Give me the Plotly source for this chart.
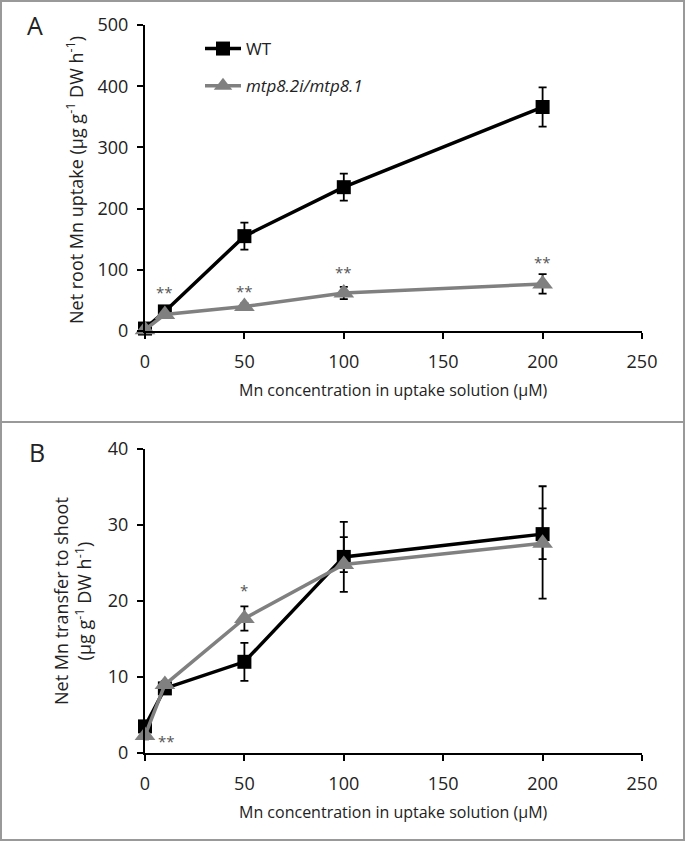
import plotly.graph_objects as go

conc = [0, 10, 50, 100, 200]

# Panel A: net root Mn uptake
wt_a = [4, 32, 155, 235, 366]
wt_a_err = [3, 5, 22, 22, 32]
mt_a = [2, 27, 40, 62, 77]
mt_a_err = [2, 4, 5, 10, 16]

# Panel B: net Mn transfer to shoot
wt_b = [3.5, 8.5, 12.0, 25.8, 28.8]
wt_b_plus = [0.5, 0.5, 2.5, 4.6, 6.3]
wt_b_minus = [0.5, 0.5, 2.5, 4.6, 3.3]
mt_b = [2.3, 9.0, 17.7, 24.8, 27.6]
mt_b_plus = [0.5, 0.5, 1.6, 3.6, 4.6]
mt_b_minus = [0.5, 0.5, 1.6, 1.0, 7.3]

stars_a_x = [10, 50, 100, 200]
stars_a_y = [64, 66, 96, 112]
stars_a_t = ["**", "**", "**", "**"]
stars_b_x = [50, 11]
stars_b_y = [21.5, 1.6]
stars_b_t = ["*", "**"]

xticks = [0, 50, 100, 150, 200, 250]
yticks_a = [0, 100, 200, 300, 400, 500]
yticks_b = [0, 10, 20, 30, 40]

FONT = "Open Sans"
BLACK = "#000000"
GRAY = "#808080"
TXT = "#222222"

fig = go.Figure()

def add_series(x, y, plus, minus, color, symbol, size, name, xa, ya, show, group):
    fig.add_trace(go.Scatter(
        x=x, y=y, mode="lines+markers", name=name, showlegend=show,
        legendgroup=group, xaxis=xa, yaxis=ya, cliponaxis=False,
        line=dict(color=color, width=3.5),
        marker=dict(symbol=symbol, size=size, color=color),
        error_y=dict(type="data", symmetric=False, array=plus, arrayminus=minus,
                     color=BLACK, thickness=1.8, width=4),
    ))

add_series(conc, wt_a, wt_a_err, wt_a_err, BLACK, "square", 14, "WT", "x", "y", True, "wt")
add_series(conc, mt_a, mt_a_err, mt_a_err, GRAY, "triangle-up", 18,
           "<i>mtp8.2i/mtp8.1</i>", "x", "y", True, "mt")
add_series(conc, wt_b, wt_b_plus, wt_b_minus, BLACK, "square", 14, "WT", "x2", "y2", False, "wt")
add_series(conc, mt_b, mt_b_plus, mt_b_minus, GRAY, "triangle-up", 18, "mtp", "x2", "y2", False, "mt")

W, H = 685, 841
def px(xp):
    return xp / W
def py(yp):
    return 1 - yp / H

axis_common = dict(showline=True, linecolor=BLACK, linewidth=2, ticks="outside",
                   ticklen=6, tickwidth=1.5, tickcolor=BLACK, showgrid=False,
                   zeroline=False, automargin=False,
                   tickfont=dict(family=FONT, size=18, color=TXT))
x_common = dict(range=[0, 250], tickvals=xticks, ticklabelstandoff=7, **axis_common)
y_common = dict(ticklabelstandoff=5, **axis_common)

fig.update_layout(
    width=W, height=H, margin=dict(l=0, r=0, t=0, b=0, pad=0, autoexpand=False),
    paper_bgcolor="white", plot_bgcolor="white",
    font=dict(family=FONT, color=TXT),
    xaxis=dict(domain=[px(145), px(642)], anchor="y", **x_common),
    yaxis=dict(domain=[py(331), py(25)], range=[0, 500], tickvals=yticks_a,
               anchor="x", **y_common),
    xaxis2=dict(domain=[px(145), px(642)], anchor="y2", **x_common),
    yaxis2=dict(domain=[py(753), py(449)], range=[0, 40], tickvals=yticks_b,
                anchor="x2", **y_common),
    legend=dict(x=px(200), y=py(31), xanchor="left", yanchor="top",
                font=dict(family=FONT, size=17, color=TXT),
                bgcolor="rgba(0,0,0,0)", itemwidth=36, tracegroupgap=12,
                traceorder="grouped"),
    shapes=[
        dict(type="rect", xref="paper", yref="paper", x0=px(1), x1=px(684),
             y0=py(422), y1=py(1), line=dict(color="#999", width=2)),
        dict(type="rect", xref="paper", yref="paper", x0=px(1), x1=px(684),
             y0=py(840), y1=py(422), line=dict(color="#999", width=2)),
    ],
)

ann = []
for x, y, t in zip(stars_a_x, stars_a_y, stars_a_t):
    ann.append(dict(x=x, y=y, xref="x", yref="y", text=t, showarrow=False,
                    xanchor="center", yanchor="middle",
                    font=dict(family=FONT, size=15, color="#555")))
for x, y, t in zip(stars_b_x, stars_b_y, stars_b_t):
    ann.append(dict(x=x, y=y, xref="x2", yref="y2", text=t, showarrow=False,
                    xanchor="center", yanchor="middle",
                    font=dict(family=FONT, size=15, color="#555")))

def paper_text(x, y, text, size, angle=0):
    return dict(x=px(x), y=py(y), xref="paper", yref="paper", text=text,
                showarrow=False, xanchor="center", yanchor="middle",
                textangle=angle, font=dict(family=FONT, size=size, color=TXT))

ann += [
    paper_text(35, 25, "A", 25),
    paper_text(37, 452, "B", 25),
    paper_text(393, 390, "Mn concentration in uptake solution (μM)", 16),
    paper_text(393, 812, "Mn concentration in uptake solution (μM)", 16),
    paper_text(75, 180, "Net root Mn uptake (μg g<sup>-1</sup> DW h<sup>-1</sup>)", 18, -90),
    paper_text(72, 601, "Net Mn transfer to shoot<br>(μg g<sup>-1</sup> DW h<sup>-1</sup>)", 18, -90),
]
fig.update_layout(annotations=ann)

fig.write_html("out.html", config={"displayModeBar": False},
               post_script="document.body.style.margin='0';document.body.style.overflow='hidden';")
